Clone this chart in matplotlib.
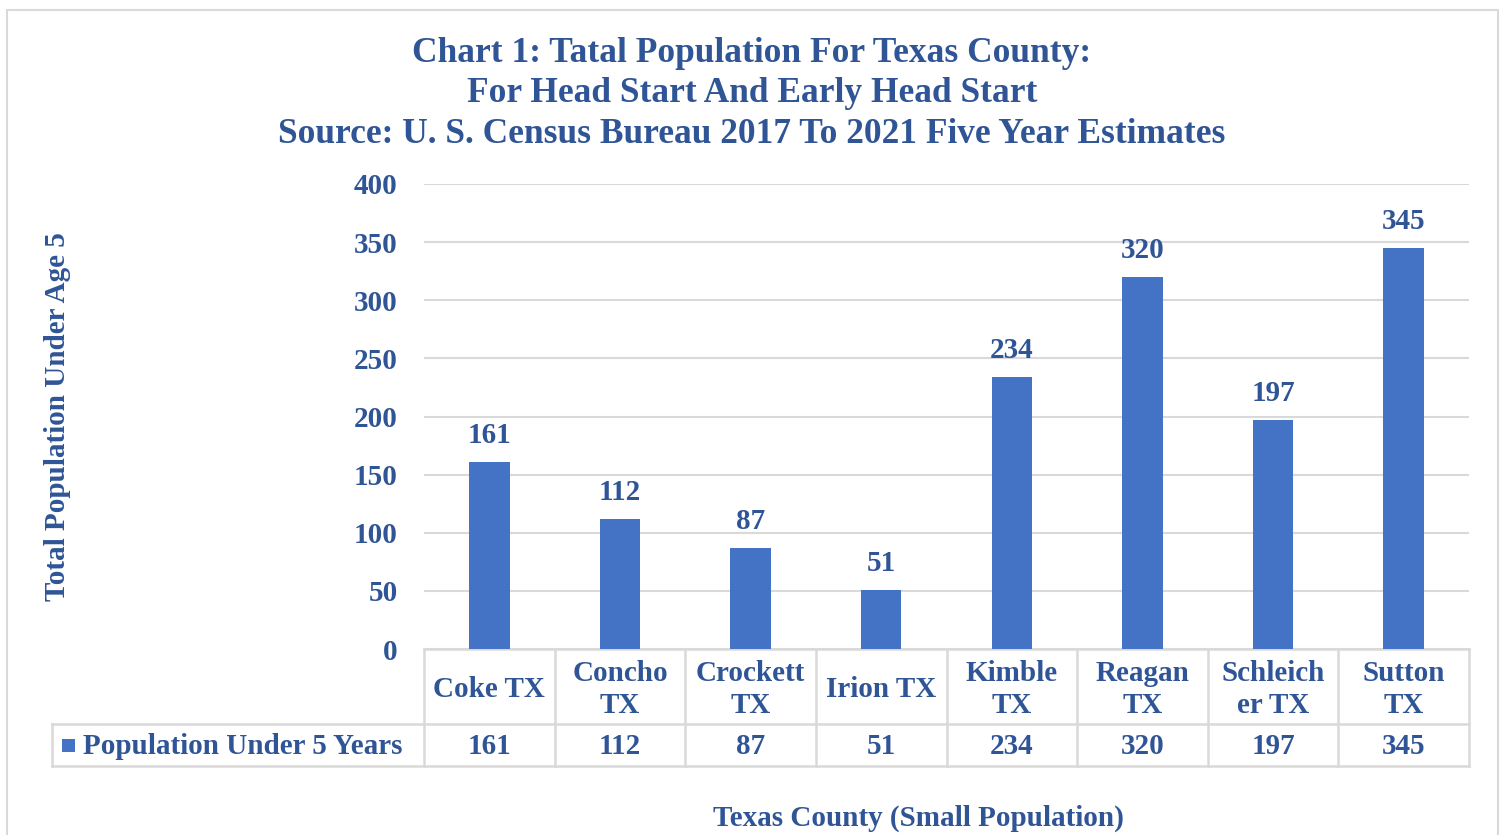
import numpy as np
import matplotlib.pyplot as plt
from matplotlib.patches import Rectangle
from matplotlib.transforms import blended_transform_factory

counties = ['Coke TX', 'Concho\nTX', 'Crockett\nTX', 'Irion TX', 'Kimble\nTX', 'Reagan\nTX', 'Schleich\ner TX', 'Sutton\nTX']
population = [161, 112, 87, 51, 234, 320, 197, 345]
series_name = 'Population Under 5 Years'
title = 'Chart 1: Tatal Population For Texas County:\nFor Head Start And Early Head Start\nSource: U. S. Census Bureau 2017 To 2021 Five Year Estimates'

navy = '#2F5597'
bar_color = '#4472C4'
grid_color = '#D9D9D9'
plt.rcParams['font.family'] = ['Liberation Serif', 'DejaVu Serif']
plt.rcParams['font.weight'] = 'bold'
fs = 21

W, H = 1505, 835
fig = plt.figure(figsize=(W / 100, H / 100), dpi=100)

# outer chart border
fig.add_artist(Rectangle((7 / W, -0.05), 1491 / W, 1 - 10 / H + 0.05, transform=fig.transFigure,
                         fill=False, ec=grid_color, lw=1.5))

x0, x1, ytop, ybot = 424, 1469, 184, 649
ax = fig.add_axes([x0 / W, 1 - ybot / H, (x1 - x0) / W, (ybot - ytop) / H])
x = np.arange(len(counties))
ax.bar(x, population, width=0.31, color=bar_color, zorder=3)
for xi, v in zip(x, population):
    ax.text(xi, v + 11, str(v), ha='center', va='bottom', fontsize=fs, color=navy, fontweight='bold')

ax.set_xlim(-0.5, len(counties) - 0.5)
ax.set_ylim(0, 400)
ax.set_yticks(np.arange(0, 401, 50))
ax.grid(axis='y', color=grid_color, lw=1.5, zorder=0)
ax.tick_params(axis='y', length=0, pad=19, labelsize=fs, labelcolor=navy)
ax.tick_params(axis='x', length=0, labelbottom=False)
for s in ax.spines.values():
    s.set_visible(False)

# data table below the plot
tr = blended_transform_factory(ax.transData, fig.transFigure)
def fy(p):
    return 1 - p / H
left_edge = -0.5 - (x0 - 52) / ((x1 - x0) / len(counties))
r0, r1, r2 = 649, 724, 766
kw = dict(transform=tr, color=grid_color, lw=1.8, clip_on=False)
ax.plot([-0.5, len(counties) - 0.5], [fy(r0), fy(r0)], **kw)
ax.plot([left_edge, len(counties) - 0.5], [fy(r1), fy(r1)], **kw)
ax.plot([left_edge, len(counties) - 0.5], [fy(r2), fy(r2)], **kw)
ax.plot([left_edge, left_edge], [fy(r1), fy(r2)], **kw)
for b in np.arange(len(counties) + 1) - 0.5:
    ax.plot([b, b], [fy(r0), fy(r2)], **kw)
for xi, name, v in zip(x, counties, population):
    ax.text(xi, fy((r0 + r1) / 2 + 3), name, transform=tr, ha='center', va='center',
            fontsize=fs, color=navy, fontweight='bold', linespacing=1.2)
    ax.text(xi, fy((r1 + r2) / 2 + 1), str(v), transform=tr, ha='center', va='center',
            fontsize=fs, color=navy, fontweight='bold')
fig.add_artist(Rectangle((62 / W, fy(752)), 13 / W, 13 / H, transform=fig.transFigure,
                         color=bar_color, lw=0))
fig.text(83 / W, fy(746), series_name, ha='left', va='center', fontsize=fs, color=navy, fontweight='bold')

fig.text(752 / W, fy(94), title, ha='center', va='center', fontsize=25.5, color=navy,
         fontweight='bold', linespacing=1.3)
fig.text(918 / W, fy(818), 'Texas County (Small Population)', ha='center', va='center',
         fontsize=fs, color=navy, fontweight='bold')
fig.text(58 / W, fy(417), 'Total Population Under Age 5', ha='center', va='center', rotation=90,
         fontsize=fs, color=navy, fontweight='bold')

fig.savefig('out.png', dpi=100)
